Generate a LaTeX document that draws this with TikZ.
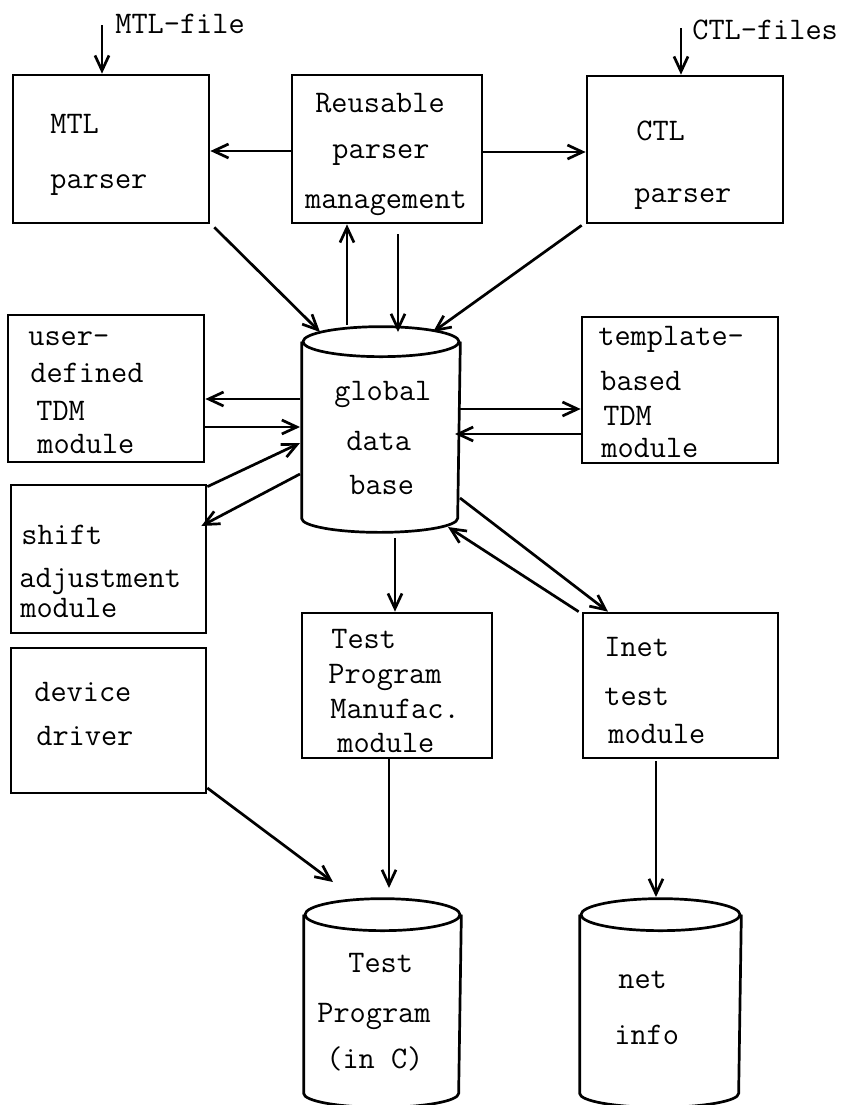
\documentclass[tikz,border=0pt]{standalone}
\usetikzlibrary{arrows.meta,fit}
\begin{document}
\begin{tikzpicture}[x=0.5pt,y=-0.5pt,
  line width=1.35pt,
  box/.style={draw,rectangle,inner sep=0pt,fit={#1}},
  area/.style={rectangle,inner sep=0pt,fit={#1}},
  txt/.style={inner sep=0pt,anchor=base west,font=\ttfamily\fontsize{15.7}{18}\selectfont},
  ctxt/.style={txt,anchor=base},
  arr/.style={-{Straight Barb[length=7.5pt,width=7pt]}}]
\useasboundingbox (0,0) rectangle (847,1105);

% boxes
\node[box={(13,75) (209,223)}] (mtl) {};
\node[box={(292,75) (482,223)}] (rpm) {};
\node[box={(587,76) (783,223)}] (ctl) {};
\node[box={(8,315) (204,462)}] (udm) {};
\node[box={(582,317) (778,463)}] (tpl) {};
\node[box={(11,485) (206,633)}] (sam) {};
\node[box={(302,613) (492,758)}] (tpm) {};
\node[box={(583,613) (778,758)}] (inet) {};
\node[box={(11,648) (206,793)}] (dev) {};

% cylinders
\node[area={(303,343) (459,517)}] (gdb) {};
\draw (gdb.north west) -- (gdb.south west) arc[start angle=180,end angle=360,x radius=39pt,y radius=7pt] -- (gdb.north east);
\draw (gdb.north) ellipse[x radius=39pt,y radius=7.5pt];

\node[area={(305,916) (460,1092)}] (tp) {};
\draw (tp.north west) -- (tp.south west) arc[start angle=180,end angle=360,x radius=38.75pt,y radius=7pt] -- (tp.north east);
\draw (tp.north) ellipse[x radius=38.75pt,y radius=8pt];

\node[area={(581,916) (740,1092)}] (ni) {};
\draw (ni.north west) -- (ni.south west) arc[start angle=180,end angle=360,x radius=39.75pt,y radius=7pt] -- (ni.north east);
\draw (ni.north) ellipse[x radius=39.75pt,y radius=8pt];

% texts
\node[txt] (lmtlfile) at (114,33) {MTL-file};
\node[txt] (lctlfiles) at (691,39) {CTL-files};
\node[txt] at (49,133) {MTL};
\node[txt] at (49,188) {parser};
\node[ctxt] at (380,112) {Reusable};
\node[ctxt] at (381,158) {parser};
\node[ctxt] at (386,208) {management};
\node[txt] at (635,140) {CTL};
\node[txt] at (633,202) {parser};
\node[txt] at (27,345) {user-};
\node[txt] at (29,382) {defined};
\node[txt] at (35,420) {TDM};
\node[txt] at (36,453) {module};
\node[txt] at (333,400) {global};
\node[txt] at (345,450) {data};
\node[txt] at (348,494) {base};
\node[txt] at (20,544) {shift};
\node[txt] at (18,587) {adjustment};
\node[txt] at (19,617) {module};
\node[txt] at (597,345) {template-};
\node[txt] at (599,390) {based};
\node[txt] at (602,425) {TDM};
\node[txt] at (600,457) {module};
\node[txt] at (330,648) {Test};
\node[txt] at (327,683) {Program};
\node[txt] at (329,718) {Manufac.};
\node[txt] at (336,752) {module};
\node[txt] at (603,656) {Inet};
\node[txt] at (603,705) {test};
\node[txt] at (607,743) {module};
\node[txt] at (33,701) {device};
\node[txt] at (35,745) {driver};
\node[txt] at (347,972) {Test};
\node[txt] at (316,1022) {Program};
\node[txt] at (325,1068) {(in C)};
\node[txt] at (617,988) {net};
\node[txt] at (613,1044) {info};

% free-end coordinates
\coordinate (mtlin) at (102,25);
\coordinate (ctlin) at (681,28);
\coordinate (g-mtl) at (320,332);
\coordinate (g-up) at (347,325);
\coordinate (g-rpm) at (398,332);
\coordinate (g-ctl) at (433,332);
\coordinate (g-l1) at (300,399);
\coordinate (g-l2) at (300,427);
\coordinate (g-s1) at (300,443);
\coordinate (g-s2) at (300,474);
\coordinate (g-r2) at (455,434);
\coordinate (g-i1) at (460,498);
\coordinate (g-i2) at (448,527);
\coordinate (g-d) at (395,538);
\coordinate (tp-a) at (389,888);
\coordinate (tp-b) at (333,882);
\coordinate (ni-a) at (656,897);

% connectors
\draw[arr] (mtlin) -- (mtl.north -| mtlin);
\draw[arr] (ctlin) -- (ctl.north -| ctlin);
\draw[arr] (rpm.west |- 0,151) -- (mtl.east |- 0,151);
\draw[arr] (rpm.east |- 0,152) -- (ctl.west |- 0,152);
\draw[arr] ([shift={(4,3)}]mtl.south east) -- (g-mtl);
\draw[arr] (g-up) -- (rpm.south -| g-up);
\draw[arr] ([yshift=-5pt]rpm.south -| g-rpm) -- (g-rpm);
\draw[arr] ([shift={(-4,1)}]ctl.south west) -- (g-ctl);
\draw[arr] (g-l1) -- (udm.east |- g-l1);
\draw[arr] (udm.east |- g-l2) -- (g-l2);
\draw[arr] ([yshift=-1.5pt]sam.north east) -- (g-s1);
\draw[arr] (g-s2) -- ([xshift=-3pt]sam.east |- 0,526);
\draw[arr] (gdb.east |- 0,409) -- (tpl.west |- 0,409);
\draw[arr] (tpl.west |- g-r2) -- (g-r2);
\draw[arr] (g-i1) -- (inet.north -| 608,0);
\draw[arr] ([xshift=-1.5pt]inet.north west) -- (g-i2);
\draw[arr] (g-d) -- (tpm.north -| g-d);
\draw[arr] (tpm.south -| tp-a) -- (tp-a);
\draw[arr] (dev.east |- 0,788) -- (tp-b);
\draw[arr] ([yshift=-1pt]inet.south -| ni-a) -- (ni-a);
\end{tikzpicture}
\end{document}
